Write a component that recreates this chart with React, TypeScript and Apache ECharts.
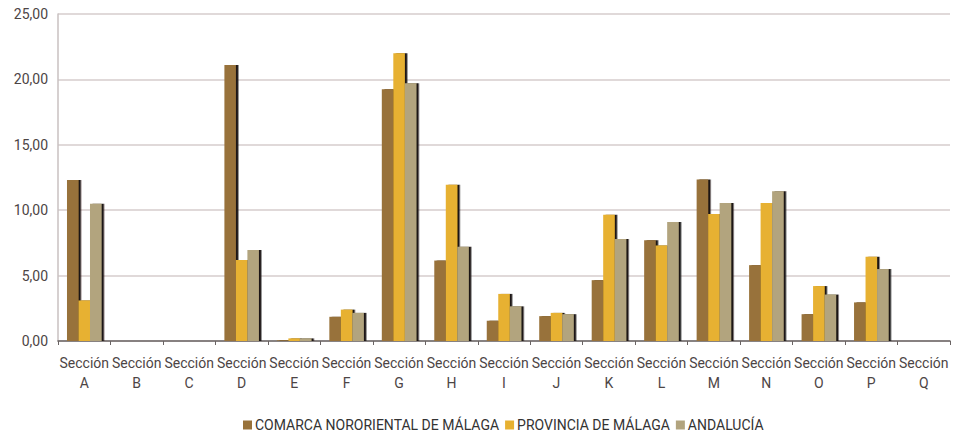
import React, { useEffect, useRef } from "react";
import * as echarts from "echarts";

const categories = ["A", "B", "C", "D", "E", "F", "G", "H", "I", "J", "K", "L", "M", "N", "O", "P", "Q"];
const comarca = [12.3, 0, 0, 21.1, 0.05, 1.85, 19.25, 6.15, 1.55, 1.9, 4.65, 7.7, 12.35, 5.8, 2.05, 2.95, 0];
const provincia = [3.1, 0, 0, 6.2, 0.2, 2.4, 22.0, 11.95, 3.6, 2.15, 9.65, 7.3, 9.7, 10.55, 4.2, 6.45, 0];
const andalucia = [10.5, 0, 0, 6.95, 0.2, 2.15, 19.7, 7.2, 2.65, 2.05, 7.8, 9.1, 10.55, 11.45, 3.55, 5.5, 0];
const seriesNames = ["COMARCA NORORIENTAL DE MÁLAGA", "PROVINCIA DE MÁLAGA", "ANDALUCÍA"];
const colors = ["#98723a", "#e7b131", "#b2a47e"];

export default function App() {
  const ref = useRef<HTMLDivElement>(null);
  useEffect(() => {
    document.body.style.margin = "0";
    document.body.style.overflow = "hidden";
    const chart = echarts.init(ref.current!, null, { renderer: "svg" });
    const data = [comarca, provincia, andalucia];
    chart.setOption({
      animation: false,
      backgroundColor: "#ffffff",
      grid: { left: 58, right: 3, top: 14, bottom: 93, containLabel: false },
      legend: {
        left: 238,
        top: 413,
        icon: "rect",
        itemWidth: 9,
        itemHeight: 9,
        itemGap: 6,
        textStyle: { fontFamily: "Roboto", fontSize: 14, color: "#333333", padding: [0, 0, 0, -2] },
        data: seriesNames,
      },
      xAxis: {
        type: "category",
        data: categories,
        axisLine: { lineStyle: { color: "#6a6464", width: 1.5 } },
        axisTick: { show: true, length: 4, lineStyle: { color: "#6a6464" } },
        axisLabel: {
          interval: 0,
          fontFamily: "Roboto",
          fontSize: 14,
          color: "#4d4545",
          lineHeight: 20,
          margin: 12,
          formatter: (v: string) => "Sección\n" + v,
        },
      },
      yAxis: {
        type: "value",
        min: 0,
        max: 25,
        interval: 5,
        axisLine: { show: true, lineStyle: { color: "#c8c0c0", width: 1.5 } },
        axisTick: { show: false },
        splitLine: { lineStyle: { color: "#d6cdcd", width: 1.5 } },
        axisLabel: {
          fontFamily: "Roboto",
          fontSize: 14,
          color: "#4d4545",
          margin: 10,
          formatter: (v: number) => v.toFixed(2).replace(".", ","),
        },
      },
      series: seriesNames.map((name, i) => ({
        name,
        type: "bar",
        data: data[i],
        barWidth: 11.5,
        barGap: "0%",
        itemStyle: {
          color: colors[i],
          shadowColor: "#1c1812",
          shadowOffsetX: 2.5,
          shadowOffsetY: 0,
          shadowBlur: 0,
        },
      })),
    });
    return () => chart.dispose();
  }, []);
  return <div ref={ref} style={{ width: 953, height: 434 }} />;
}
